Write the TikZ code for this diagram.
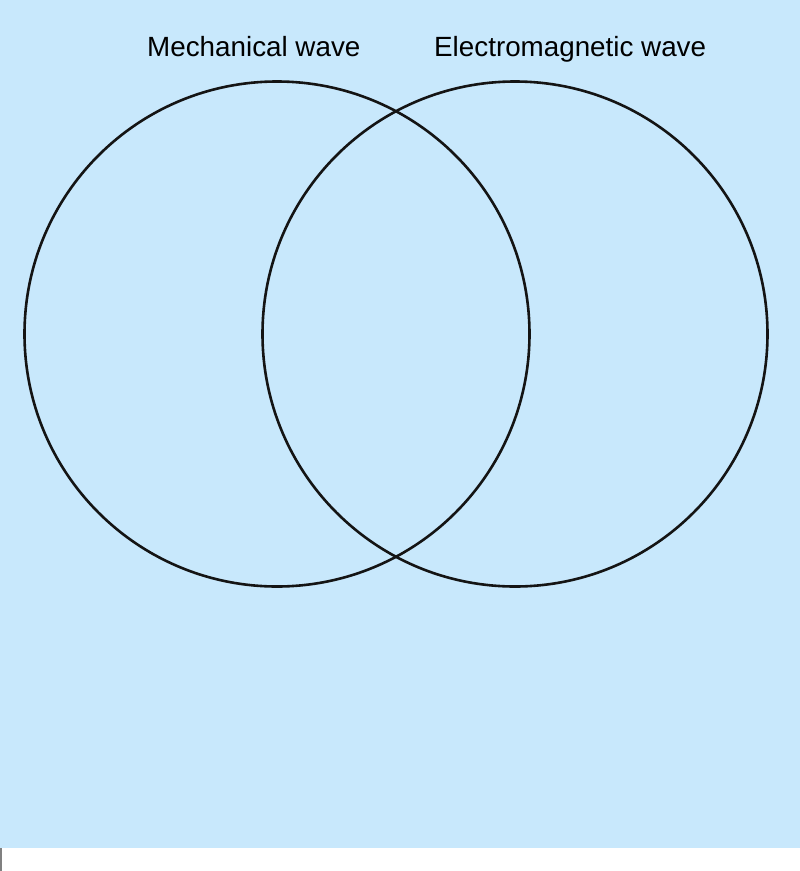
\documentclass[tikz,border=0pt]{standalone}
\usepackage{fontspec}
\setmainfont{Liberation Sans}
\definecolor{bgblue}{RGB}{200,232,252}
\definecolor{ringcol}{RGB}{20,20,20}
\begin{document}
\begin{tikzpicture}[x=1pt,y=-1pt,
  ring/.style={circle,draw=ringcol,line width=2.6pt,minimum size=505pt,inner sep=0pt},
  setlabel/.style={anchor=base west,inner sep=0pt,font=\fontsize{27.8}{32}\selectfont,text=black}]
\useasboundingbox (0,0) rectangle (800,871);
\fill[white] (0,0) rectangle (800,871);
\fill[bgblue] (0,0) rectangle (800,848);
\fill[gray] (0,848) rectangle (2,871);
\node[ring] (mech) at (277,334) {};
\node[ring] (em) at (515,334) {};
\node[setlabel] (mechlabel) at (147,56) {Mechanical wave};
\node[setlabel] (emlabel) at (434,56) {Electromagnetic wave};
\end{tikzpicture}
\end{document}
